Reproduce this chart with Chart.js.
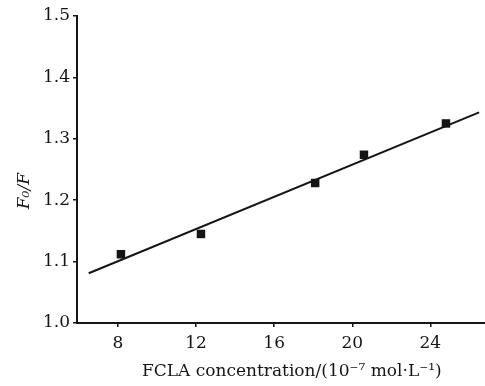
<!DOCTYPE html>
<html>
<head>
<meta charset="utf-8">
<script src="https://cdn.jsdelivr.net/npm/chart.js@4.4.0/dist/chart.umd.min.js"></script>
<style>
  html, body { margin: 0; padding: 0; background: #fff; overflow: hidden; }
  #wrap { width: 485px; height: 386px; }
  canvas { display: block; }
</style>
</head>
<body>
<div id="wrap"><canvas id="fclaChart" width="485" height="386"></canvas></div>
<script>
// measured points (FCLA concentration, F0/F)
const concX = [8.15, 12.25, 18.1, 20.6, 24.8];
const ratioY = [1.112, 1.145, 1.228, 1.274, 1.325];

// fitted line at its two ends
const fitX = [6.5, 26.5];
const fitY = [1.081, 1.343];

const xTicks = [8, 12, 16, 20, 24];
const yTicks = [1.0, 1.1, 1.2, 1.3, 1.4, 1.5];

const serif = "'DejaVu Serif', 'Liberation Serif', serif";
const ink = '#151515';

const ctx = document.getElementById('fclaChart').getContext('2d');

const fclaChart = new Chart(ctx, {
  type: 'scatter',
  data: {
    datasets: [
      {
        label: 'fit',
        type: 'line',
        data: fitX.map((x, i) => ({ x: x, y: fitY[i] })),
        borderColor: ink,
        borderWidth: 2,
        pointRadius: 0,
        fill: false
      },
      {
        label: 'data',
        data: concX.map((x, i) => ({ x: x, y: ratioY[i] })),
        pointStyle: 'rect',
        pointRadius: 6,
        backgroundColor: ink,
        borderColor: ink,
        borderWidth: 0
      }
    ]
  },
  options: {
    responsive: false,
    animation: false,
    layout: { autoPadding: false, padding: { top: 16, right: 0, left: 0, bottom: 4 } },
    plugins: {
      legend: { display: false },
      tooltip: { enabled: false }
    },
    scales: {
      x: {
        type: 'linear',
        min: 5.9,
        max: 26.8,
        afterBuildTicks: (scale) => { scale.ticks = xTicks.map(v => ({ value: v })); },
        afterFit: (scale) => { scale.height = 59; scale.paddingRight = 0; },
        border: { display: true, color: ink, width: 2 },
        grid: { drawOnChartArea: false, drawTicks: true, tickLength: 4, color: ink, lineWidth: 1.5 },
        ticks: { color: ink, font: { family: serif, size: 17 }, padding: 6 },
        title: {
          display: true,
          text: '    FCLA concentration/(10⁻⁷ mol·L⁻¹)',
          color: ink,
          font: { family: serif, size: 17 },
          padding: { top: 0, bottom: 0 }
        }
      },
      y: {
        type: 'linear',
        min: 1.0,
        max: 1.5,
        afterBuildTicks: (scale) => { scale.ticks = yTicks.map(v => ({ value: v })); },
        afterFit: (scale) => { scale.width = 77; },
        border: { display: true, color: ink, width: 2 },
        grid: { drawOnChartArea: false, drawTicks: true, tickLength: 4, color: ink, lineWidth: 1.5 },
        ticks: {
          color: ink,
          font: { family: serif, size: 17 },
          padding: 3,
          callback: (v) => Number(v).toFixed(1)
        },
        title: {
          display: true,
          // trailing spaces push the rotated title a bit lower, like the original
          text: 'F₀/F        ',
          color: ink,
          font: { family: serif, size: 17, style: 'italic' },
          padding: { top: 14, bottom: 0 }
        }
      }
    }
  }
});
</script>
</body>
</html>
